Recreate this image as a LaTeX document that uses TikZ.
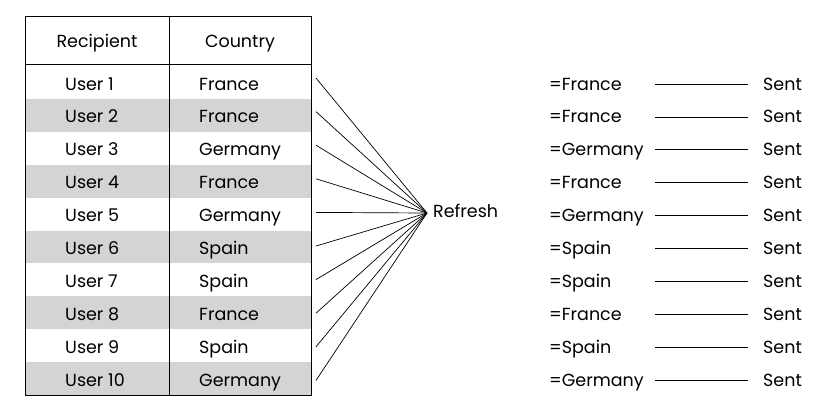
\documentclass[tikz,border=0pt]{standalone}
\usepackage{fontspec}
\setmainfont{Poppins}
\usetikzlibrary{positioning}
\definecolor{RowClr}{RGB}{212,212,212}

\begin{document}
\begin{tikzpicture}[x=1pt,y=-1pt,
  cell/.style={anchor=base west,inner sep=0pt,
    font=\fontsize{17.5}{20}\selectfont},
  head/.style={cell,anchor=base},
  fan/.style={line width=0.7pt},
  link/.style={line width=0.8pt,shorten >=15pt}]
\useasboundingbox (0,0) rectangle (815,402);

% striped rows
\foreach \r in {2,4,6,8,10}
  \fill[RowClr] (25,{66+(\r-1)*32.9}) rectangle (311,{66+\r*32.9});

% table frame
\draw[line width=1pt] (25,16) rectangle (311,395);
\draw[line width=1pt] (169,16) -- (169,395);
\draw[line width=0.8pt] (25,64) -- (311,64);

\node[head] (hrec) at (97,47) {Recipient};
\node[head] (hcty) at (240,47) {Country};

\node[cell] (refresh) at (433,217) {Refresh};
\coordinate (hub) at (427,213);

\foreach \i/\c in {1/France,2/France,3/Germany,4/France,5/Germany,
                   6/Spain,7/Spain,8/France,9/Spain,10/Germany}{
  \pgfmathsetmacro{\yy}{90+(\i-1)*32.9}
  \node[cell] (rec\i) at (65,\yy) {User \i};
  \node[cell] (cty\i) at (199,\yy) {\c};
  \coordinate (s\i) at (316,{78+(\i-1)*33.6});
  \draw[fan] (s\i) -- (hub);
  \node[cell] (eq\i) at (549,\yy) {=\c};
  \node[cell] (sent\i) at (763,\yy) {Sent};
  \coordinate (l\i) at (655,\yy-6);
  \draw[link] (l\i) -- (sent\i.base west |- l\i);
}
\end{tikzpicture}
\end{document}
